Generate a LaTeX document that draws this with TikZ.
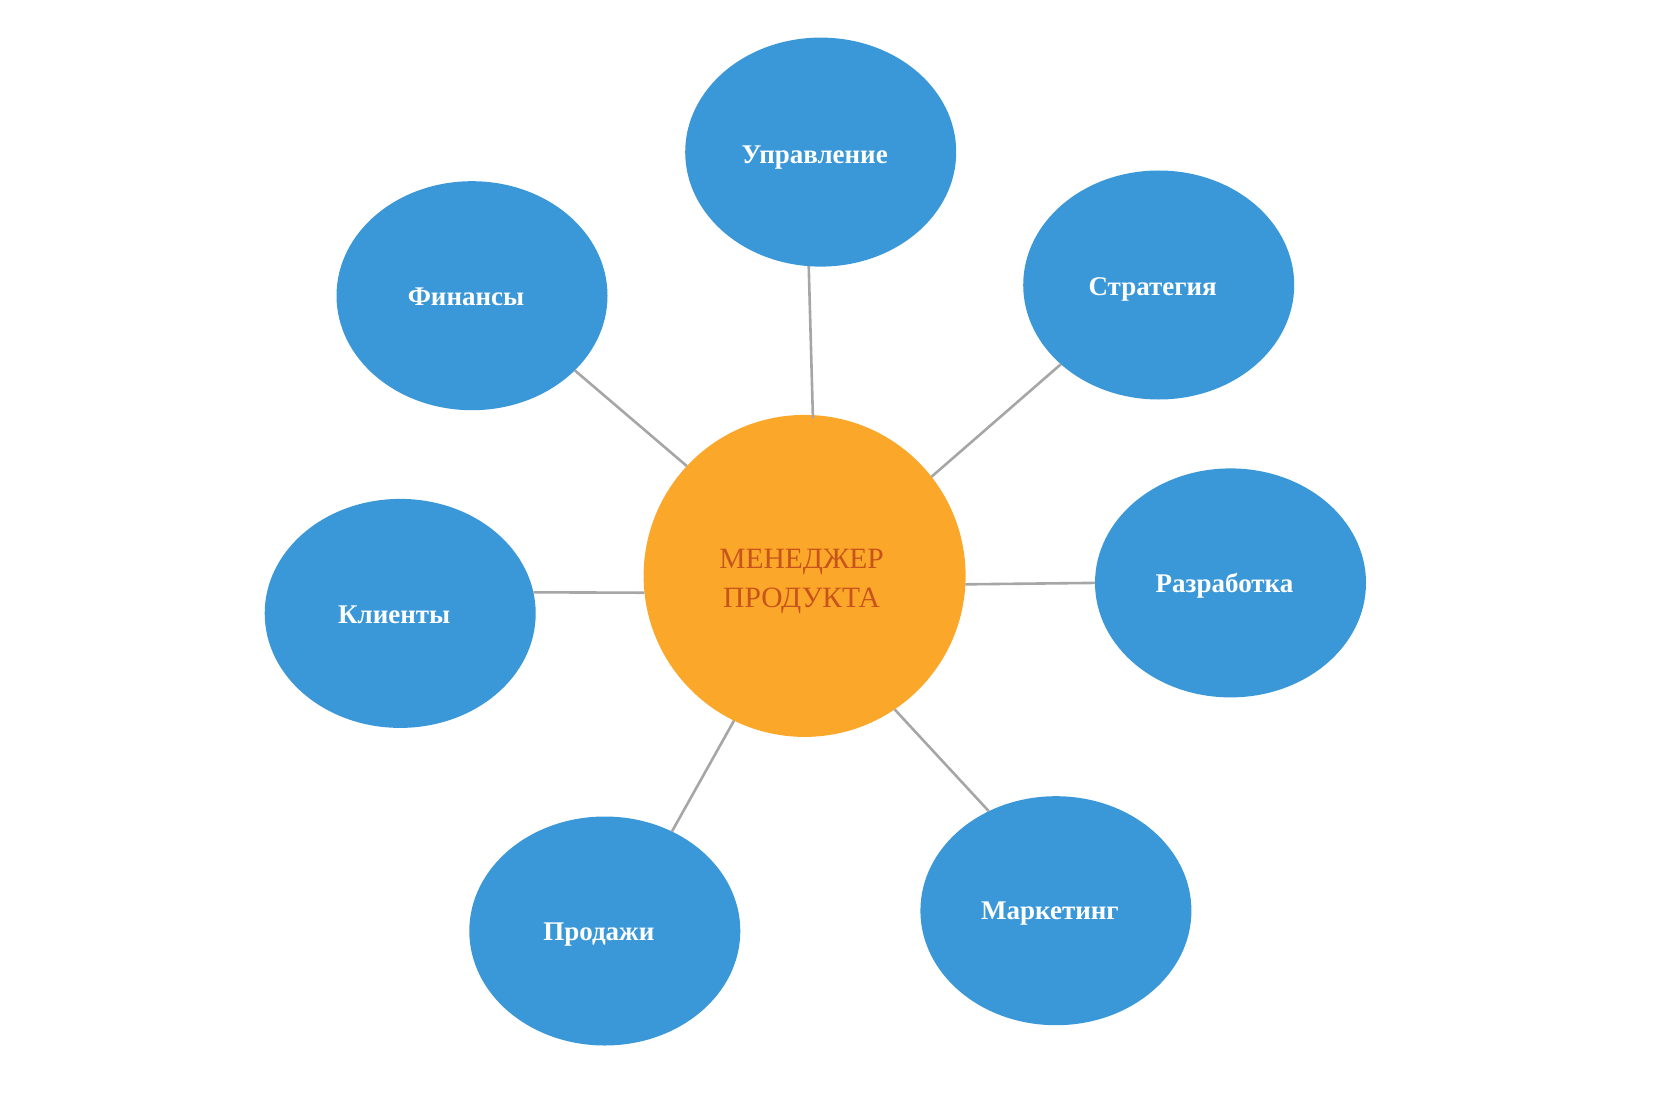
\documentclass[tikz,border=0pt]{standalone}
\usepackage{fontspec}
\setmainfont{Liberation Serif}
\usetikzlibrary{shapes.geometric}
\definecolor{bubble}{RGB}{58,152,216}
\definecolor{hub}{RGB}{251,167,42}
\definecolor{hubtext}{RGB}{200,84,28}
\definecolor{link}{RGB}{166,166,166}
\tikzset{
  topic/.style={ellipse, fill=bubble, draw=none, minimum width=271pt, minimum height=229pt,
    inner sep=0pt, outer sep=0pt},
  lbl/.style={text=white, font=\fontsize{27}{31}\selectfont\bfseries, xshift=-6pt, yshift=-5pt},
  core/.style={circle, fill=hub, draw=none, minimum size=322pt, inner sep=0pt, outer sep=0pt},
  corelbl/.style={text=hubtext, align=center, font=\fontsize{29.5}{39}\selectfont, xshift=-3pt, yshift=-6pt},
  conn/.style={draw=link, line width=2.6pt}
}
\begin{document}
\begin{tikzpicture}[x=1pt,y=-1pt]
\useasboundingbox (0,0) rectangle (1680,1102);
\node[core, label={[corelbl]center:МЕНЕДЖЕР\\ПРОДУКТА}] (c) at (804.6,575.9) {};
\node[topic, label={[lbl]center:Управление}] (u) at (820.7,152.1) {};
\node[topic, label={[lbl,yshift=4pt]center:Финансы}] (f) at (472,295.7) {};
\node[topic, label={[lbl,yshift=1pt]center:Стратегия}] (s) at (1158.7,285) {};
\node[topic, label={[lbl,yshift=4pt]center:Клиенты}] (k) at (400.2,613.4) {};
\node[topic, label={[lbl,yshift=2pt]center:Разработка}] (r) at (1230.5,582.9) {};
\node[topic, label={[lbl,yshift=1pt]center:Продажи}] (p) at (604.8,931) {};
\node[topic, label={[lbl,yshift=2pt]center:Маркетинг}] (m) at (1055.9,910.7) {};
\draw[conn] (u.264.7) -- ([shift={(-0.1,3)}]c.87.4);
\draw[conn] (f.324.5) -- (c.137.4);
\draw[conn] (s.219.3) -- (c.38.8);
\draw[conn] (k.9.1) -- (c.186.8);
\draw[conn] (r.180) -- (c.357.5);
\draw[conn] (p.56) -- (c.244.7);
\draw[conn] (m.124.5) -- (c.304.2);
\end{tikzpicture}
\end{document}
